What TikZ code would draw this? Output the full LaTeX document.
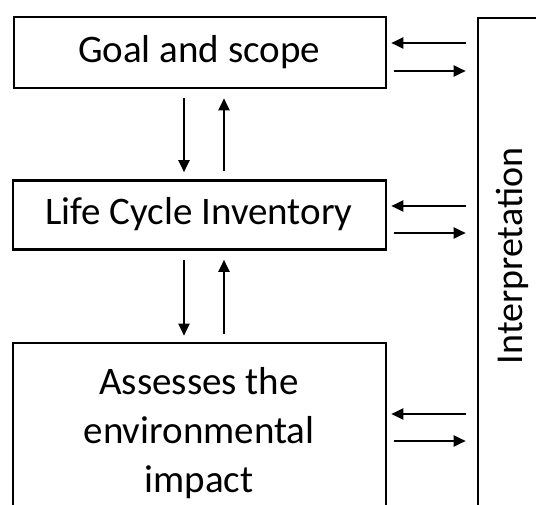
\documentclass[tikz,border=0pt]{standalone}
\usepackage{fontspec}
\setmainfont{Carlito}
\usetikzlibrary{arrows.meta}
\begin{document}
\begin{tikzpicture}[x=1pt,y=-1pt,
  box/.style={draw=black, line width=2.6pt, rectangle, inner sep=0pt},
  lbl/.style={font=\fontsize{39}{49}\selectfont, align=center, inner sep=0pt},
  arr/.style={line width=2pt, -{Triangle[length=12pt,width=11pt]}}]
\useasboundingbox (0,0) rectangle (536,505);
\fill[white] (0,0) rectangle (536,505);
% boxes
\node[box, minimum width=372pt, minimum height=71pt] (b1) at (200,52.5) {};
\node[box, minimum width=373pt, minimum height=69pt] (b2) at (199.5,215) {};
\node[box, minimum width=373pt, minimum height=167pt] (b3) at (199.5,426.5) {};
\node[box, minimum width=67pt, minimum height=497pt] (ip) at (511.5,266.5) {};
% labels
\node[lbl] (t1) at (199,52) {Goal and scope};
\node[lbl] (t2) at (199,214) {Life Cycle Inventory};
\node[lbl] (t3) at (199,433) {Assesses the\\environmental\\impact};
\node[lbl, font=\fontsize{38}{48}\selectfont, rotate=90] (t4) at (512,256) {Interpretation};
% vertical arrows
\draw[arr, shorten <=9pt, shorten >=7pt] (b1.south -| 184,0) -- (b2.north -| 184,0);
\draw[arr, shorten <=8pt, shorten >=9pt] (b2.north -| 224,0) -- (b1.south -| 224,0);
\draw[arr, shorten <=9pt, shorten >=6pt] (b2.south -| 184,0) -- (b3.north -| 184,0);
\draw[arr, shorten <=8pt, shorten >=9pt] (b3.north -| 224,0) -- (b2.south -| 224,0);
% horizontal arrows
\draw[arr, shorten <=11pt, shorten >=4pt] (ip.west |- 0,43) -- (b1.east |- 0,43);
\draw[arr, shorten <=7pt, shorten >=11pt] (b1.east |- 0,71) -- (ip.west |- 0,71);
\draw[arr, shorten <=11pt, shorten >=4pt] (ip.west |- 0,206) -- (b2.east |- 0,206);
\draw[arr, shorten <=7pt, shorten >=11pt] (b2.east |- 0,233) -- (ip.west |- 0,233);
\draw[arr, shorten <=11pt, shorten >=4pt] (ip.west |- 0,414) -- (b3.east |- 0,414);
\draw[arr, shorten <=7pt, shorten >=11pt] (b3.east |- 0,441) -- (ip.west |- 0,441);
\end{tikzpicture}
\end{document}
